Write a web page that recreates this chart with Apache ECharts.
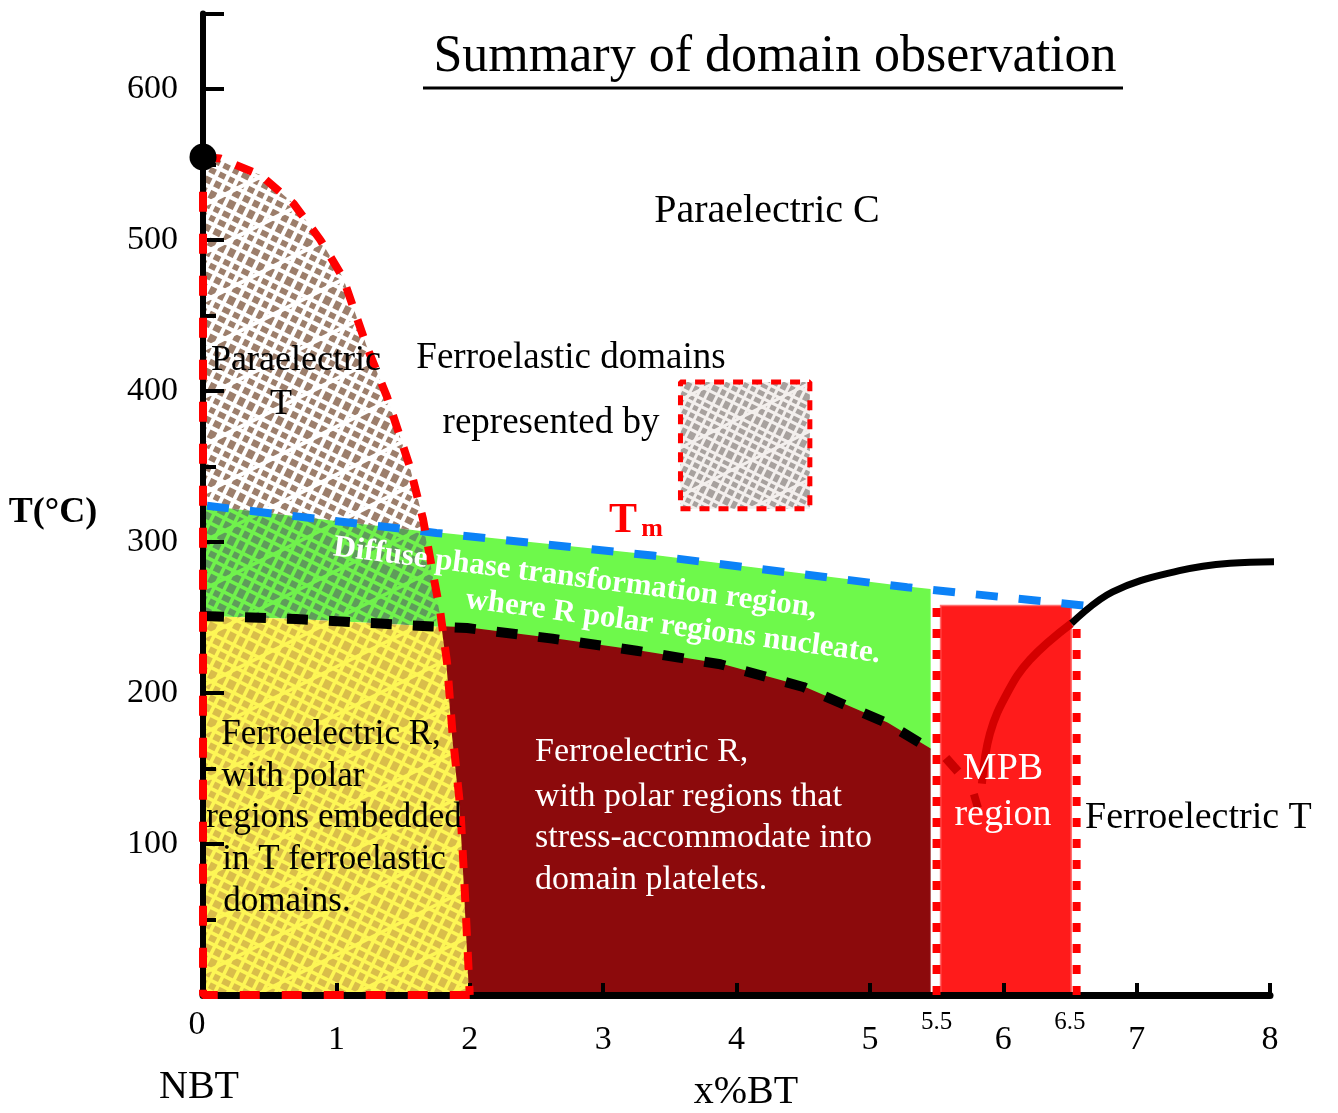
<!DOCTYPE html>
<html><head><meta charset="utf-8">
<script src="https://cdn.jsdelivr.net/npm/echarts@6/dist/echarts.min.js"></script>
<style>html,body{margin:0;padding:0;background:#fff}#c{width:1338px;height:1113px}</style>
</head><body><div id="c"></div>
<script>
// ---------------- data ----------------
const xTickValues = [1, 2, 3, 4, 5, 6, 7, 8];
const yTickValues = [100, 200, 300, 400, 500, 600];
const extraXLabels = ['0', '5.5', '6.5'];
const extraXValues = [0, 5.5, 6.5];
const nbtCurie = [0, 555];
const paraTBoundary = [[0,555],[0.13,554],[0.43,543],[0.68,524],[0.88,500],[1.05,475],[1.23,429],[1.38,396],[1.55,350],[1.65,315],[1.72,281],[1.78,253],[1.83,220],[1.87,174],[1.93,123],[1.96,74],[1.99,19],[2.0,0]];
const tmLine = [[0.03,324],[1.75,306],[3.37,291],[5.28,270],[6.6,258]];
const rBoundary = [[0,251],[0.70,249],[1.33,246],[1.72,244],[1.98,243],[2.62,236],[3.25,228],[3.88,219],[4.50,204],[5.13,180],[5.45,163]];
const rRegionEnd = 5.45;
const mpbBounds = [5.5, 6.55];
const mpbBoundTops = [264, 246];
const mpbFillX = [5.53, 6.51];
const mpbFillTop = 258;
const tBoundary = [[6.51,246],[6.82,267],[7.32,281],[7.70,286],[8.07,287]];
const tBoundaryInMPB = [[6.51,246],[6.20,222],[6.03,200],[5.90,173],[5.84,140]];
const tBoundaryDashes = [[[5.57,157],[5.66,148]], [[5.78,133],[5.81,124]]];
const swatchX = [3.58, 4.55];
const swatchY = [322, 406];

// ---------------- helpers ----------------
const SERIF = '"Liberation Serif","Times New Roman",serif';
function hatch(base, line, lw, offA, offB, offC) {
  const S = 96, c = document.createElement('canvas');
  c.width = c.height = S;
  const g = c.getContext('2d');
  g.fillStyle = base; g.fillRect(0, 0, S, S);
  g.strokeStyle = line; g.lineWidth = lw;
  for (let k = -8; k <= 8; k++) {
    offA.forEach(o => { const b = k * 48 + o; g.beginPath(); g.moveTo(-20, -10 + b); g.lineTo(S + 20, (S + 20) * 0.5 + b); g.stroke(); });
    offB.forEach(o => { const b = k * 48 + o; g.beginPath(); g.moveTo(10 + b, -20); g.lineTo(-58 + b, S + 20); g.stroke(); });
    offC.forEach(o => { const b = k * 48 + o; g.beginPath(); g.moveTo(-20, 10 + b); g.lineTo(S + 20, -(S + 20) * 0.5 + b); g.stroke(); });
  }
  return { type: 'pattern', image: c, repeat: 'repeat' };
}
function yAt(curve, x) {
  let i = 0;
  while (i < curve.length - 2 && x > curve[i + 1][0]) i++;
  const [x0, y0] = curve[i], [x1, y1] = curve[i + 1];
  return y0 + (y1 - y0) * (x - x0) / (x1 - x0);
}
function crossing(path, f) {
  for (let i = 0; i < path.length - 1; i++) {
    const d0 = path[i][1] - f(path[i][0]), d1 = path[i + 1][1] - f(path[i + 1][0]);
    if (d0 >= 0 && d1 < 0) {
      const t = d0 / (d0 - d1);
      return { i, p: [path[i][0] + t * (path[i + 1][0] - path[i][0]), path[i][1] + t * (path[i + 1][1] - path[i][1])] };
    }
  }
}
const blueAt = x => yAt(tmLine, x), blackAt = x => yAt(rBoundary, x);
const red = paraTBoundary;
const c1 = crossing(red, blueAt), c2 = crossing(red, blackAt);
const P1 = c1.p, P2 = c2.p, i1 = c1.i, i2 = c2.i;

const brownPoly = [...red.slice(0, i1 + 1), P1, [0, blueAt(0)]];
const greenHatchPoly = [P1, ...red.slice(i1 + 1, i2 + 1), P2, ...rBoundary.filter(p => p[0] < P2[0]).reverse(), [0, blueAt(0)]];
const yellowPoly = [...rBoundary.filter(p => p[0] < P2[0]), P2, ...red.slice(i2 + 1), [0, 0]];
const greenPoly = [P1, ...tmLine.filter(p => p[0] > P1[0] && p[0] < rRegionEnd), [rRegionEnd, blueAt(rRegionEnd)], [rRegionEnd, blackAt(rRegionEnd)], ...rBoundary.filter(p => p[0] > P2[0] && p[0] < rRegionEnd).reverse(), P2, ...red.slice(i1 + 1, i2 + 1).reverse()];
const maroonPoly = [P2, ...rBoundary.filter(p => p[0] > P2[0] && p[0] < rRegionEnd), [rRegionEnd, blackAt(rRegionEnd)], [rRegionEnd, 0], ...red.slice(i2 + 1).reverse()];
const mpbPoly = [[mpbFillX[0], 0], [mpbFillX[1], 0], [mpbFillX[1], mpbFillTop], [mpbFillX[0], mpbFillTop]];
const swatchPoly = [[swatchX[0], swatchY[0]], [swatchX[1], swatchY[0]], [swatchX[1], swatchY[1]], [swatchX[0], swatchY[1]]];

const regions = [
  { pts: brownPoly, fill: hatch('#9c7e6b', '#ffffff', 4, [0, 11, 22, 34], [4, 16, 28, 39], [19]) },
  { pts: greenHatchPoly, fill: hatch('#5f9b5b', '#70f24c', 3.6, [0, 11, 22, 34], [4, 16, 28, 39], [19]) },
  { pts: yellowPoly, fill: hatch('#d9bd4a', '#fdf655', 3.6, [0, 11, 22, 34], [4, 16, 28, 39], [19]) },
  { pts: greenPoly, fill: '#6ef94b', stroke: '#6ef94b' },
  { pts: maroonPoly, fill: '#8c0a0c', stroke: '#8c0a0c' },
  { pts: mpbPoly, fill: '#ff1b1b', stroke: '#ff7070' },
  { pts: swatchPoly, fill: hatch('#a7a19e', '#f3efed', 3, [0, 8, 17, 26, 36], [3, 12, 22, 31, 40], [20]) }
];

const chart = echarts.init(document.getElementById('c'), null, { renderer: 'canvas' });
const lineS = (data, color, width, type, z, smooth) => ({
  type: 'line', data, symbol: 'none', smooth: smooth || false, clip: false, silent: true, z,
  lineStyle: { color, width, type: type || 'solid', cap: 'butt', opacity: 1 }, animation: false
});

const T = (text, x, y, size, opts) => Object.assign({
  type: 'text', x, y, silent: true, z: 100,
  style: Object.assign({
    text, fill: '#000', font: size + 'px ' + SERIF,
    align: 'center', verticalAlign: 'middle', textAlign: 'center', textVerticalAlign: 'middle'
  }, (opts && opts.style) || {})
}, opts ? { rotation: opts.rotation || 0 } : {});
const L = (text, x, y, size, fill) => T(text, x, y, size, { style: { fill: fill || '#000', align: 'left', textAlign: 'left' } });

chart.setOption({
  animation: false,
  backgroundColor: '#fff',
  grid: { left: 203, right: 68, top: 13.5, bottom: 118, outerBoundsMode: 'none' },
  xAxis: {
    type: 'value', min: 0, max: 8, interval: 1, z: 4,
    axisLine: { show: true, onZero: false, lineStyle: { color: '#000', width: 7 } },
    axisTick: { show: true, inside: true, length: 12, lineStyle: { color: '#000', width: 4 } },
    axisLabel: { color: '#000', fontSize: 34, fontFamily: SERIF, margin: 28,
      formatter: v => xTickValues.includes(v) ? String(v) : '' },
    splitLine: { show: false }
  },
  yAxis: {
    type: 'value', min: 0, max: 650, interval: 100, z: 4,
    axisLine: { show: true, lineStyle: { color: '#000', width: 6 } },
    axisTick: { show: true, inside: true, length: 21, lineStyle: { color: '#000', width: 4 } },
    minorTick: { show: true, splitNumber: 2, length: 13, lineStyle: { color: '#000', width: 4 } },
    axisLabel: { color: '#000', fontSize: 34, fontFamily: SERIF, margin: 25,
      formatter: v => yTickValues.includes(v) ? String(v) : '' },
    splitLine: { show: false }, minorSplitLine: { show: false }
  },
  series: [
    {
      type: 'custom', coordinateSystem: 'cartesian2d', silent: true, z: 2, animation: false,
      data: regions.map((r, i) => [i, 0]),
      renderItem: (params, api) => {
        const r = regions[params.dataIndex];
        return { type: 'polygon', shape: { points: r.pts.map(p => api.coord(p)) },
          style: { fill: r.fill, stroke: r.stroke || null, lineWidth: r.stroke ? 1.5 : 0 } };
      }
    },
    lineS(tmLine, '#0c82f7', 8, [22, 21], 6),
    lineS(rBoundary, '#000', 10, [21, 21], 6),
    lineS(red, '#ff0000', 8, [18, 16], 7),
    lineS([[red[red.length - 1][0], 0], [0, 0], red[0]], '#ff0000', 8, [20, 22], 7),
    lineS([[mpbBounds[0], 0], [mpbBounds[0], mpbBoundTops[0]]], '#ff0000', 8, [9, 12], 6),
    lineS([[mpbBounds[1], 0], [mpbBounds[1], mpbBoundTops[1]]], '#ff0000', 8, [9, 12], 6),
    lineS(tBoundary, '#000', 7, 'solid', 6, 0.4),
    lineS(tBoundaryInMPB, '#d40000', 8, 'solid', 6, 0.4),
    lineS(tBoundaryDashes[0], '#c80000', 9, 'solid', 6),
    lineS(tBoundaryDashes[1], '#c80000', 8, 'solid', 6),
    lineS([[swatchX[0], swatchY[0]], [swatchX[1], swatchY[0]], [swatchX[1], swatchY[1]], [swatchX[0], swatchY[1]], [swatchX[0], swatchY[0]]], '#ff0000', 5, [10, 9], 6),
    {
      type: 'scatter', data: [nbtCurie], symbol: 'circle', symbolSize: 27, silent: true, clip: false, z: 10,
      itemStyle: { color: '#000', opacity: 1 }
    },
    {
      type: 'custom', coordinateSystem: 'cartesian2d', silent: true, z: 10, clip: false,
      data: extraXValues.map((v, i) => [v, 0, i]),
      renderItem: (params, api) => {
        const p = api.coord([api.value(0), 0]);
        const i = params.dataIndex;
        const big = i === 0;
        return { type: 'text', x: p[0] + (big ? -6 : 0), y: p[1] + (big ? 30 : 27),
          style: { text: extraXLabels[i], fill: '#000', font: (big ? 34 : 25) + 'px ' + SERIF,
            align: 'center', verticalAlign: 'middle', textAlign: 'center', textVerticalAlign: 'middle' } };
      }
    }
  ],
  graphic: [
    T('Summary of domain observation', 775, 57, 52),
    { type: 'line', silent: true, shape: { x1: 423, y1: 88, x2: 1123, y2: 88 }, style: { stroke: '#000', lineWidth: 3 } },
    T('Paraelectric C', 767, 211, 40),
    T('Ferroelastic domains', 571, 358, 37),
    T('represented by', 551, 423, 37),
    T('Paraelectric', 296, 361, 36),
    T('T', 281, 405, 36),
    T('T(°C)', 53, 513, 36, { style: { font: 'bold 36px ' + SERIF } }),
    T('T', 623, 521, 42, { style: { fill: '#ff0000', font: 'bold 42px ' + SERIF } }),
    T('m', 652, 529, 26, { style: { fill: '#ff0000', font: 'bold 26px ' + SERIF } }),
    T('Diffuse phase transformation region,', 575, 578, 31, { rotation: -0.126, style: { fill: '#fff', font: 'bold 31px ' + SERIF } }),
    T('where R polar regions nucleate.', 673, 627, 31, { rotation: -0.131, style: { fill: '#fff', font: 'bold 31px ' + SERIF } }),
    T('Ferroelectric R,', 331, 735, 35),
    T('with polar', 293, 777, 35),
    T('regions embedded', 334, 818, 35),
    T('in T ferroelastic', 334, 860, 35),
    T('domains.', 287, 902, 35),
    L('Ferroelectric R,', 535, 752, 34, '#fff'),
    L('with polar regions that', 535, 797, 34, '#fff'),
    L('stress-accommodate into', 535, 838, 34, '#fff'),
    L('domain platelets.', 535, 880, 34, '#fff'),
    T('MPB', 1003, 769, 38, { style: { fill: '#fff' } }),
    T('region', 1003, 815, 38, { style: { fill: '#fff' } }),
    L('Ferroelectric T', 1085, 818, 38),
    T('NBT', 199, 1087, 40),
    T('x%BT', 746, 1092, 40)
  ]
});
</script>
</body></html>
